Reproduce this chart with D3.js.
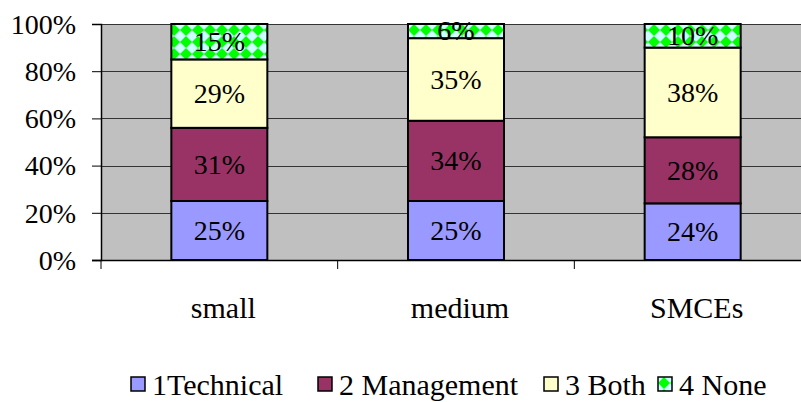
<!DOCTYPE html>
<html>
<head>
<meta charset="utf-8">
<script src="https://cdn.jsdelivr.net/npm/d3@7"></script>
<style>
  html, body { margin: 0; padding: 0; background: #fff; }
  svg { display: block; }
</style>
</head>
<body>
<svg id="chart" width="801" height="402"></svg>
<script>
// Company size groups and the share of each kind of training need (percent)
const categories = ["small", "medium", "SMCEs"];
const seriesNames = ["1Technical", "2 Management", "3 Both", "4 None"];
const technical  = [25, 25, 24];
const management = [31, 34, 28];
const both       = [29, 35, 38];
const none       = [15, 6, 10];
const yTicks = [0, 20, 40, 60, 80, 100];

const seriesValues = [technical, management, both, none];
const fills = ["#9999FF", "#993366", "#FFFFCC", "url(#diamonds)"];
const FONT = "'Liberation Serif', 'Times New Roman', Times, 'DejaVu Serif', serif";

const svg = d3.select("#chart");
const plot = { left: 101, top: 24, right: 811, bottom: 260 };

// Diamond check used for the "None" segment
const defs = svg.append("defs");
const pat = defs.append("pattern")
  .attr("id", "diamonds")
  .attr("patternUnits", "userSpaceOnUse")
  .attr("width", 12).attr("height", 12);
pat.append("rect").attr("width", 12).attr("height", 12).attr("fill", "#CCFFFF");
pat.append("polygon").attr("points", "6,0 12,6 6,12 0,6").attr("fill", "#00FF00");

const x = d3.scaleBand().domain(categories).range([plot.left, plot.right]);
const y = d3.scaleLinear().domain([0, 100]).range([plot.bottom, plot.top]);
const barW = 96;

// Plot background
svg.append("rect")
  .attr("x", plot.left).attr("y", plot.top)
  .attr("width", plot.right - plot.left).attr("height", plot.bottom - plot.top)
  .attr("fill", "#C0C0C0");

// Gridlines
svg.append("g").selectAll("line").data(yTicks.filter(d => d > 0)).join("line")
  .attr("x1", plot.left).attr("x2", plot.right)
  .attr("y1", d => Math.round(y(d)) + 0.5).attr("y2", d => Math.round(y(d)) + 0.5)
  .attr("stroke", "#333").attr("stroke-width", 1);

// Stack the series
const rows = categories.map((c, i) => {
  const r = { cat: c };
  seriesNames.forEach((s, k) => r[s] = seriesValues[k][i]);
  return r;
});
const stacked = d3.stack().keys(seriesNames)(rows);

const layers = svg.append("g").selectAll("g").data(stacked).join("g")
  .attr("fill", (d, k) => fills[k]);

layers.selectAll("rect").data(d => d).join("rect")
  .attr("x", d => x(d.data.cat) + (x.bandwidth() - barW) / 2)
  .attr("y", d => y(d[1]))
  .attr("width", barW)
  .attr("height", d => y(d[0]) - y(d[1]))
  .attr("stroke", "#000").attr("stroke-width", 2);

// Segment value labels
const fs = 28;
const fsBig = 30;
layers.selectAll("text").data(d => d.map(v => ({ v, key: d.key }))).join("text")
  .attr("x", d => x(d.v.data.cat) + x.bandwidth() / 2)
  .attr("y", d => (y(d.v[0]) + y(d.v[1])) / 2 + fs * 0.33)
  .attr("text-anchor", "middle")
  .attr("font-family", FONT)
  .attr("font-size", fs)
  .attr("fill", "#000")
  .text(d => d.v.data[d.key] + "%");

// Y axis
const yAxis = d3.axisLeft(y).tickValues(yTicks).tickFormat(d => d + "%").tickSize(9).tickPadding(16);
const gy = svg.append("g").attr("transform", `translate(${plot.left},0)`).call(yAxis)
  .attr("font-family", FONT).attr("font-size", fs);
gy.select(".domain").attr("stroke", "#000").attr("stroke-width", 1.5);
gy.selectAll(".tick line").attr("stroke", "#000");
gy.selectAll(".tick text").attr("font-family", FONT).attr("font-size", fs).attr("fill", "#000").attr("dy", "0.33em");

// X axis: ticks sit on category boundaries
const xAxis = svg.append("g");
xAxis.append("line")
  .attr("x1", plot.left - 9).attr("x2", plot.right)
  .attr("y1", plot.bottom + 0.5).attr("y2", plot.bottom + 0.5)
  .attr("stroke", "#000").attr("stroke-width", 1.5);
const bounds = categories.map(c => x(c));
xAxis.selectAll("line.tk").data(bounds).join("line").attr("class", "tk")
  .attr("x1", d => d).attr("x2", d => d)
  .attr("y1", plot.bottom).attr("y2", plot.bottom + 9)
  .attr("stroke", "#000");
xAxis.selectAll("text").data(categories).join("text")
  .attr("x", d => x(d) + x.bandwidth() / 2 + 4)
  .attr("y", 318)
  .attr("text-anchor", "middle")
  .attr("font-family", FONT)
  .attr("font-size", fsBig)
  .attr("fill", "#000")
  .text(d => d);

// Legend
const legendX = [131, 318, 544, 658];
const lg = svg.append("g").selectAll("g").data(seriesNames).join("g")
  .attr("transform", (d, i) => `translate(${legendX[i]},377)`);
lg.append("rect").attr("width", 14).attr("height", 14)
  .attr("fill", (d, i) => fills[i]).attr("stroke", "#000").attr("stroke-width", 1.5);
lg.append("text").attr("x", 21).attr("y", 18)
  .attr("font-family", FONT).attr("font-size", fsBig).attr("fill", "#000")
  .text(d => d);
</script>
</body>
</html>
